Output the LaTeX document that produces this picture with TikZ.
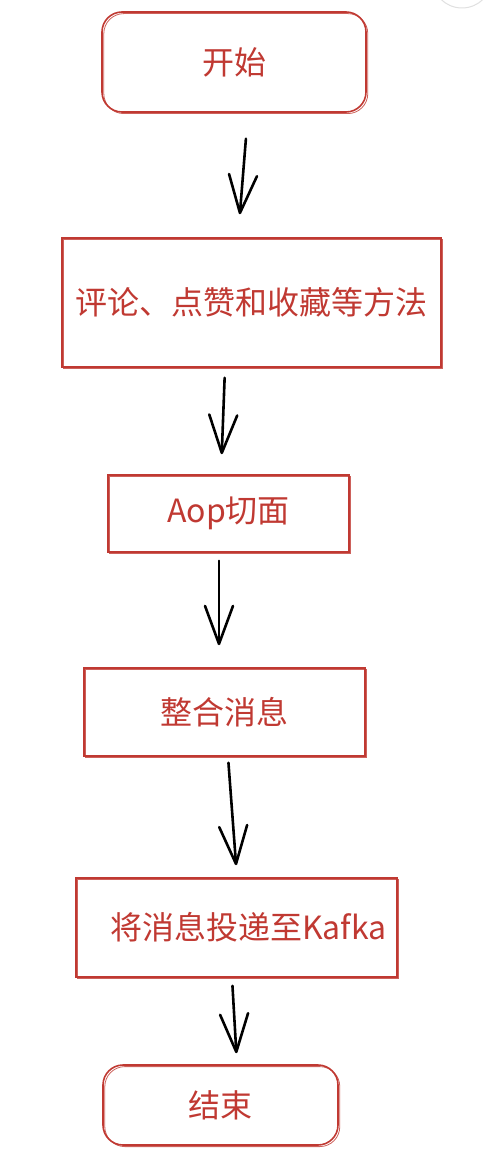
\documentclass[tikz,border=0pt]{standalone}
\usepackage{fontspec}
\setmainfont{Noto Sans CJK SC}
\usetikzlibrary{arrows.meta}
\definecolor{sketchred}{RGB}{192,57,50}
\tikzstyle{every node}=[text=sketchred,font=\fontsize{32}{36}\selectfont,inner sep=0pt]
\tikzstyle{stepbox}=[draw=sketchred,line width=1.6pt,
  preaction={draw=sketchred!80,line width=0.8pt,transform canvas={shift={(1.8pt,-1.6pt)}}}]
\tikzstyle{endbox}=[stepbox,rounded corners=20pt]
\tikzstyle{flow}=[line width=2.6pt,line cap=round,
  -{Straight Barb[length=38pt,width=28pt,round]}]

\begin{document}
\begin{tikzpicture}[x=1pt,y=-1pt]
  \useasboundingbox (0,0) rectangle (490,1166);
  % corner of a button left in the screenshot
  \draw[black!12,line width=1pt,fill=white] (462,-22) circle (30);

  \node[endbox,minimum width=264pt,minimum height=100pt] (start) at (234,62) {开始};
  \node[stepbox,minimum width=379pt,minimum height=129pt] (methods) at (251.5,302.5) {评论、点赞和收藏等方法};
  \node[stepbox,minimum width=241pt,minimum height=77pt] (aop) at (228.5,513.5) {Aop切面};
  \node[stepbox,minimum width=281pt,minimum height=88pt] (merge) at (224.5,712) {整合消息};
  \node[stepbox,minimum width=321pt,minimum height=99pt] (kafka) at (236.5,927.5) {\hspace*{24pt}将消息投递至Kafka};
  \node[endbox,minimum width=235pt,minimum height=80pt] (finish) at (220.5,1105) {结束};

  \draw[flow,shorten <=26pt,shorten >=23pt] ([xshift=14pt]start.south) -- ([xshift=-13.5pt]methods.north);
  \draw[flow,shorten <=10pt,shorten >=20pt] ([xshift=-26.5pt]methods.south) -- ([xshift=-7.5pt]aop.north);
  \draw[flow,shorten <=8pt,shorten >=22pt] ([xshift=-9.5pt]aop.south) -- ([xshift=-5.5pt]merge.north);
  \draw[flow,shorten <=6pt,shorten >=12pt] ([xshift=3.5pt]merge.south) -- ([xshift=0.5pt]kafka.north);
  \draw[flow,shorten <=8pt,shorten >=11pt] ([xshift=-4.5pt]kafka.south) -- ([xshift=16.5pt]finish.north);
\end{tikzpicture}
\end{document}
